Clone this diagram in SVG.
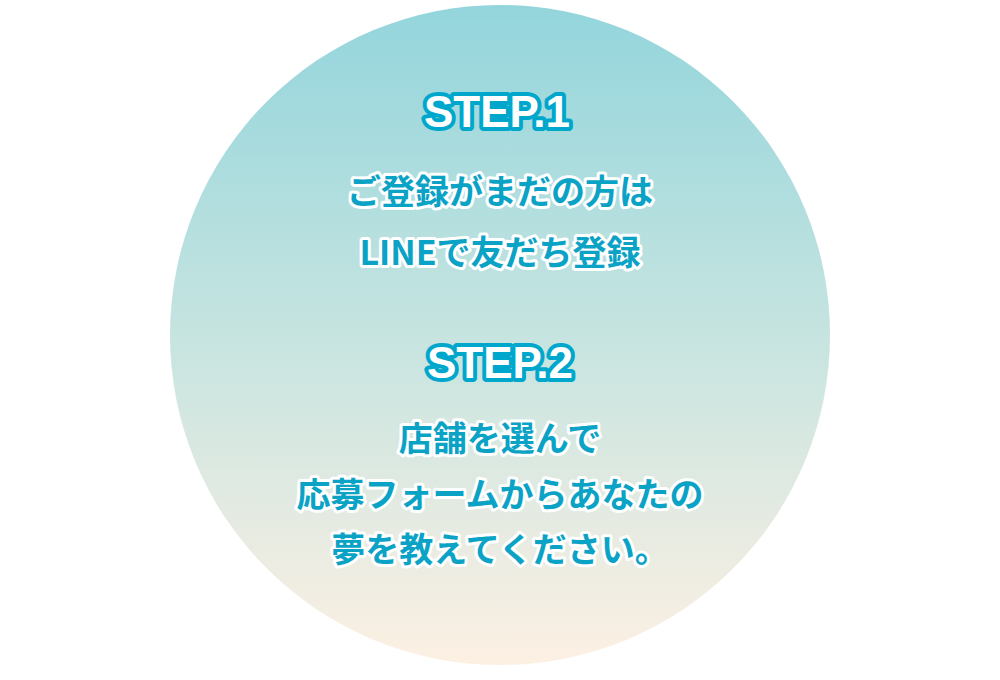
<svg xmlns="http://www.w3.org/2000/svg" width="1000" height="680" viewBox="0 0 1000 680">
<defs>
<linearGradient id="g" x1="0" y1="0" x2="0" y2="1">
<stop offset="0" stop-color="#93d5dc"/>
<stop offset="0.5" stop-color="#c6e4e0"/>
<stop offset="1" stop-color="#fdf0e3"/>
</linearGradient>
<style>
.step{font-family:"Liberation Sans",Arial,sans-serif;font-weight:bold;font-size:44px;fill:#fff;stroke:#00a7cc;stroke-width:8;paint-order:stroke;stroke-linejoin:round;text-anchor:middle}
.jp{font-family:"Noto Sans CJK JP",sans-serif;font-weight:bold;font-size:34px;fill:#0aa3c6;stroke:#fff;stroke-width:6;paint-order:stroke;stroke-linejoin:round;text-anchor:middle}
</style>
</defs>
<rect width="1000" height="680" fill="#fff"/>
<g id="circle"><circle cx="500" cy="335" r="330" fill="url(#g)"/></g>
<g id="step1">
<text class="step" x="497" y="127">STEP.1</text>
<text class="jp" x="500" y="204">ご登録がまだの方は</text>
<text class="jp" x="500" y="265">LINEで友だち登録</text>
</g>
<g id="step2">
<text class="step" x="500" y="378">STEP.2</text>
<text class="jp" x="500" y="451">店舗を選んで</text>
<text class="jp" x="500" y="507">応募フォームからあなたの</text>
<text class="jp" x="500" y="562">夢を教えてください。</text>
</g>
<g id="connectors"/>
</svg>
